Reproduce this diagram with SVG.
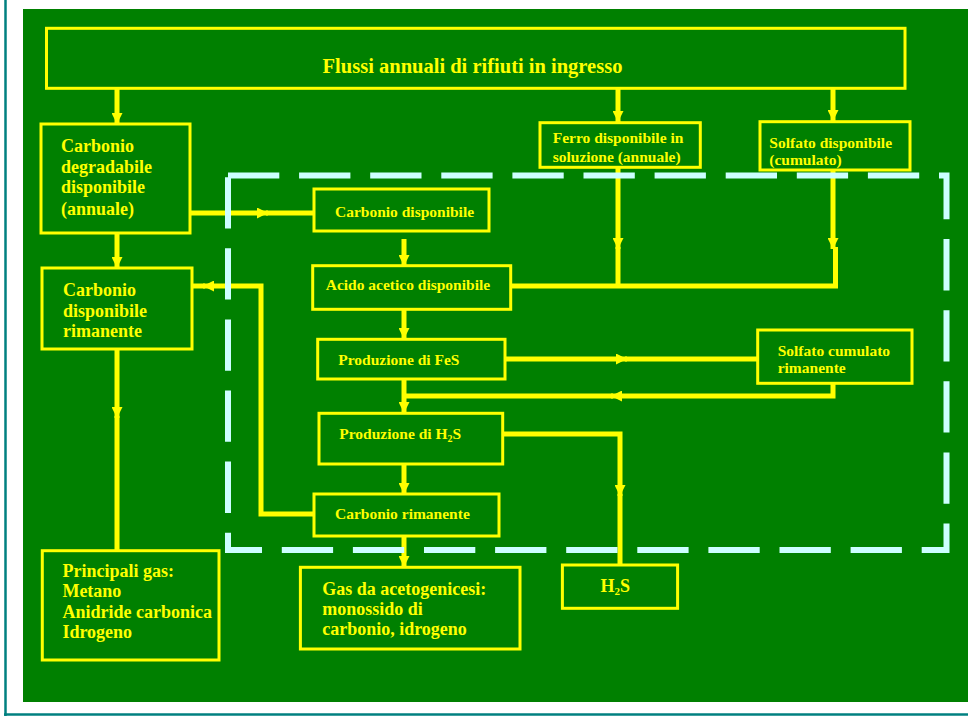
<svg xmlns="http://www.w3.org/2000/svg" width="968" height="716" viewBox="0 0 968 716">
  <style>
    .box { fill: none; stroke: #FFFF00; stroke-width: 3; }
    .wire { fill: none; stroke: #FFFF00; stroke-width: 5; }
    .lbl { font-family: "Liberation Serif", "Times New Roman", serif; font-weight: bold; fill: #FFFF00; }
    .s { font-size: 15.5px; }
    .m { font-size: 18px; }
    .dash { fill: none; stroke: #CCFFFF; stroke-width: 6; stroke-dasharray: 51.3 19.8; }
  </style>
  <defs>
    <marker id="tip" markerUnits="userSpaceOnUse" markerWidth="11" markerHeight="11" refX="10" refY="5" orient="auto" viewBox="0 0 10 10">
      <path d="M0,0 L10,5 L0,10 Z" fill="#FFFF00"/>
    </marker>
  </defs>

  <!-- page frame -->
  <rect x="0" y="0" width="968" height="716" fill="#FFFFFF"/>
  <line x1="5.5" y1="0" x2="5.5" y2="716" stroke="#008080" stroke-width="2.5"/>
  <line x1="4" y1="714.5" x2="968" y2="714.5" stroke="#008080" stroke-width="2.5"/>
  <rect x="23" y="9" width="945" height="693" fill="#008000"/>

  <!-- connectors -->
  <g id="connectors">
    <path class="wire" d="M117,89 V124" marker-end="url(#tip)"/>
    <path class="wire" d="M618,89 V122" marker-end="url(#tip)"/>
    <path class="wire" d="M833,89 V121" marker-end="url(#tip)"/>
    <path class="wire" d="M117,233 V268" marker-end="url(#tip)"/>
    <path class="wire" d="M190,213 H268" marker-end="url(#tip)"/>
    <path class="wire" d="M266,213 H314"/>
    <path class="wire" d="M404,239 V266" marker-end="url(#tip)"/>
    <path class="wire" d="M618,167 V249" marker-end="url(#tip)"/>
    <path class="wire" d="M833,170 V249" marker-end="url(#tip)"/>
    <path class="wire" d="M618,247 V286"/>
    <path class="wire" d="M511,286 H835.5 V247"/>
    <path class="wire" d="M404,309 V339" marker-end="url(#tip)"/>
    <path class="wire" d="M505,359 H627" marker-end="url(#tip)"/>
    <path class="wire" d="M625,359 H758"/>
    <path class="wire" d="M833,383 V396 H611" marker-end="url(#tip)"/>
    <path class="wire" d="M613,396 H404"/>
    <path class="wire" d="M404,379 V413" marker-end="url(#tip)"/>
    <path class="wire" d="M503,434 H620 V496" marker-end="url(#tip)"/>
    <path class="wire" d="M620,494 V565"/>
    <path class="wire" d="M404,464 V494" marker-end="url(#tip)"/>
    <path class="wire" d="M404,536 V567" marker-end="url(#tip)"/>
    <path class="wire" d="M314,514 H261 V286 H203" marker-end="url(#tip)"/>
    <path class="wire" d="M205,286 H192"/>
    <path class="wire" d="M117,349 V418" marker-end="url(#tip)"/>
    <path class="wire" d="M117,416 V551"/>
  </g>

  <!-- boundary of the process section -->
  <path class="dash" d="M228,175.5 H946.5 V550 H228 Z"/>

  <!-- nodes -->
  <g id="n-flussi">
    <rect class="box" x="46.5" y="28.3" width="858.5" height="60"/>
    <text class="lbl" x="472.5" y="73" font-size="20.5" text-anchor="middle">Flussi annuali di rifiuti in ingresso</text>
  </g>
  <g id="n-carbonio-degradabile">
    <rect class="box" x="41" y="124" width="149" height="109"/>
    <text class="lbl m" x="61" y="152">Carbonio</text>
    <text class="lbl m" x="61" y="172.5">degradabile</text>
    <text class="lbl m" x="61" y="193">disponibile</text>
    <text class="lbl m" x="61" y="214.5">(annuale)</text>
  </g>
  <g id="n-carbonio-disp-rimanente">
    <rect class="box" x="42" y="268" width="150" height="81"/>
    <text class="lbl m" x="63" y="296">Carbonio</text>
    <text class="lbl m" x="63" y="316.5">disponibile</text>
    <text class="lbl m" x="63" y="337">rimanente</text>
  </g>
  <g id="n-ferro">
    <rect class="box" x="540" y="122.7" width="160.3" height="44.6"/>
    <text class="lbl s" x="552.7" y="143.3">Ferro disponibile in</text>
    <text class="lbl s" x="552.7" y="161.7">soluzione (annuale)</text>
  </g>
  <g id="n-solfato">
    <rect class="box" x="760" y="121.7" width="150" height="48.3"/>
    <text class="lbl s" x="769.3" y="147.7">Solfato disponibile</text>
    <text class="lbl s" x="769.3" y="165">(cumulato)</text>
  </g>
  <g id="n-carbonio-disponibile">
    <rect class="box" x="314" y="189" width="175" height="42"/>
    <text class="lbl s" x="335" y="216.7">Carbonio disponibile</text>
  </g>
  <g id="n-acido-acetico">
    <rect class="box" x="312.7" y="265.7" width="198" height="43.6"/>
    <text class="lbl s" x="325.7" y="290">Acido acetico disponibile</text>
  </g>
  <g id="n-fes">
    <rect class="box" x="317.7" y="339.3" width="187.3" height="39.7"/>
    <text class="lbl s" x="338.3" y="365">Produzione di FeS</text>
  </g>
  <g id="n-solfato-rimanente">
    <rect class="box" x="757.7" y="330" width="154.3" height="53.3"/>
    <text class="lbl s" x="777.7" y="355.7">Solfato cumulato</text>
    <text class="lbl s" x="777.7" y="373.3">rimanente</text>
  </g>
  <g id="n-produzione-h2s">
    <rect class="box" x="319" y="413.3" width="183.7" height="50.7"/>
    <text class="lbl s" x="339.3" y="439">Produzione di H<tspan font-size="10" dy="3">2</tspan><tspan dy="-3">S</tspan></text>
  </g>
  <g id="n-carbonio-rimanente">
    <rect class="box" x="314" y="494" width="185" height="42"/>
    <text class="lbl s" x="335" y="519.3">Carbonio rimanente</text>
  </g>
  <g id="n-principali-gas">
    <rect class="box" x="42.3" y="550.7" width="176.7" height="109.3"/>
    <text class="lbl m" x="62.4" y="576.7">Principali gas:</text>
    <text class="lbl m" x="62.4" y="596.7">Metano</text>
    <text class="lbl m" x="62.4" y="618.3">Anidride carbonica</text>
    <text class="lbl m" x="62.4" y="638.3">Idrogeno</text>
  </g>
  <g id="n-gas-acetogenicesi">
    <rect class="box" x="300.4" y="567.3" width="219.6" height="81.7"/>
    <text class="lbl m" x="322.2" y="595">Gas da acetogenicesi:</text>
    <text class="lbl m" x="322.2" y="615">monossido di</text>
    <text class="lbl m" x="322.2" y="635">carbonio, idrogeno</text>
  </g>
  <g id="n-h2s">
    <rect class="box" x="562.4" y="565" width="115.2" height="43.3"/>
    <text class="lbl m" x="600.4" y="592.3">H<tspan font-size="11" dy="3">2</tspan><tspan dy="-3">S</tspan></text>
  </g>
</svg>
